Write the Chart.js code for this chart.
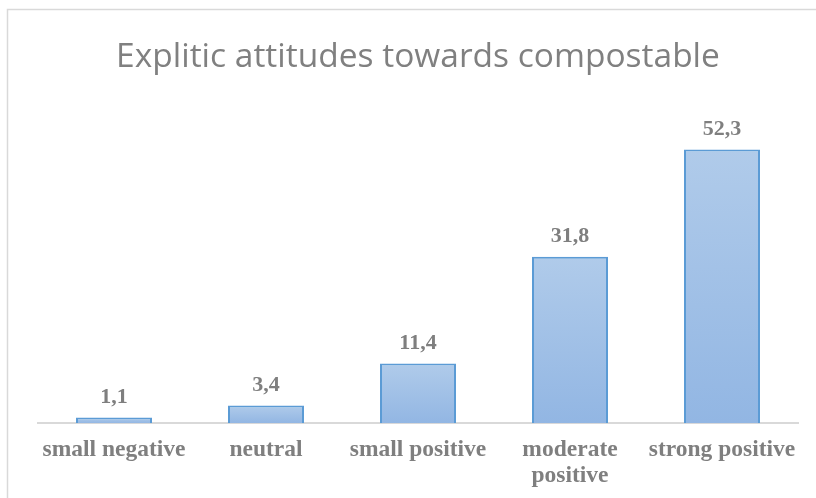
<!DOCTYPE html>
<html>
<head>
<meta charset="utf-8">
<script src="https://cdn.jsdelivr.net/npm/chart.js@4.4.0/dist/chart.umd.min.js"></script>
<style>
  html, body { margin: 0; padding: 0; background: #fff; overflow: hidden; }
  #wrap { position: relative; width: 816px; height: 498px; }
</style>
</head>
<body>
<div id="wrap"><canvas id="chart" width="816" height="498"></canvas></div>
<script>
const categories = ['small negative', 'neutral', 'small positive', ['moderate', 'positive'], 'strong positive'];
const shares = [1.1, 3.4, 11.4, 31.8, 52.3];

const labelColor = '#7f7f7f';
const serifFamily = '"Liberation Serif", "Times New Roman", serif';

// decimal comma, one digit
const fmt = v => v.toFixed(1).replace('.', ',');

// light frame around the chart box
const framePlugin = {
  id: 'frame',
  beforeDraw(chart) {
    const ctx = chart.ctx;
    ctx.save();
    ctx.strokeStyle = '#d9d9d9';
    ctx.lineWidth = 1.5;
    ctx.strokeRect(7.5, 9.5, 830, 520);
    ctx.restore();
  }
};

// value above each bar
const valueLabels = {
  id: 'valueLabels',
  afterDatasetsDraw(chart) {
    const ctx = chart.ctx;
    const meta = chart.getDatasetMeta(0);
    ctx.save();
    ctx.font = `bold 22px ${serifFamily}`;
    ctx.fillStyle = labelColor;
    ctx.textAlign = 'center';
    ctx.textBaseline = 'alphabetic';
    meta.data.forEach((bar, i) => {
      ctx.fillText(fmt(shares[i]), bar.x, bar.y - 15);
    });
    ctx.restore();
  }
};

// vertical gradient per bar, lighter at the top
function barFill(context) {
  const chart = context.chart;
  const y = chart.scales.y;
  if (!y || context.dataIndex === undefined) return '#9dbde6';
  const top = y.getPixelForValue(shares[context.dataIndex]);
  const base = y.getPixelForValue(0);
  if (!isFinite(top) || !isFinite(base) || top === base) return '#9dbde6';
  const g = chart.ctx.createLinearGradient(0, top, 0, base);
  g.addColorStop(0, '#b0cbea');
  g.addColorStop(1, '#92b6e3');
  return g;
}

new Chart(document.getElementById('chart'), {
  type: 'bar',
  data: {
    labels: categories,
    datasets: [{
      data: shares,
      backgroundColor: barFill,
      borderColor: '#5b9bd5',
      borderWidth: 2,
      barPercentage: 0.5,
      categoryPercentage: 1.0
    }]
  },
  options: {
    responsive: false,
    animation: false,
    layout: { padding: { left: 38, right: 18, top: 0, bottom: -5 } },
    plugins: {
      legend: { display: false },
      tooltip: { enabled: false },
      title: {
        display: true,
        text: 'Explitic attitudes towards compostable',
        color: '#808080',
        font: { family: '"Open Sans", sans-serif', size: 33.5, weight: 'normal' },
        padding: { top: 37, bottom: 32 }
      }
    },
    scales: {
      x: {
        grid: { display: false, drawTicks: false },
        border: { display: true, color: '#d9d9d9', width: 2 },
        ticks: {
          color: labelColor,
          font: { family: serifFamily, weight: 'bold', size: 23.5, lineHeight: 1.1 },
          maxRotation: 0,
          autoSkip: false,
          padding: 14
        }
      },
      y: {
        display: false,
        min: 0,
        max: 60
      }
    }
  },
  plugins: [framePlugin, valueLabels]
});
</script>
</body>
</html>
